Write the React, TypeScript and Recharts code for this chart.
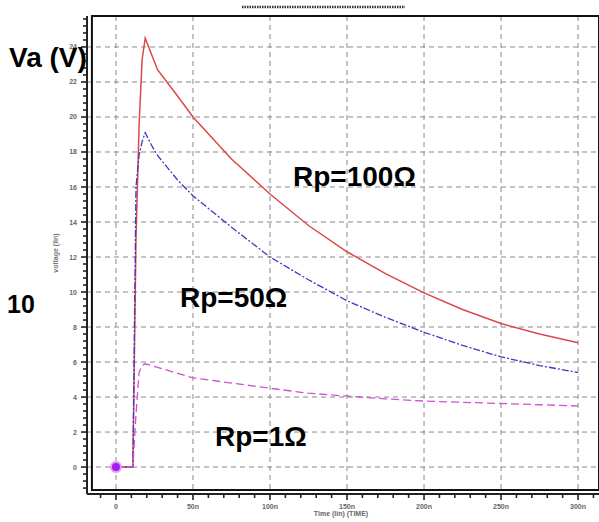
import {
  CartesianGrid,
  Line,
  LineChart,
  ReferenceArea,
  ReferenceDot,
  XAxis,
  YAxis,
} from "recharts";

// time in ns, voltages in V
const timeNs = [0, 11, 13, 15, 17, 19, 23, 27, 40, 50, 75, 100, 125, 150, 175, 200, 225, 250, 275, 300];
const rp100 = [0, 0, 13, 19.5, 23.3, 24.5, 23.6, 22.7, 21.2, 20.0, 17.6, 15.6, 13.8, 12.3, 11.05, 9.95, 9.0, 8.2, 7.6, 7.1];
const rp50 = [0, 0, 16, 17.8, 18.6, 19.1, 18.4, 17.8, 16.4, 15.5, 13.7, 12.0, 10.7, 9.5, 8.55, 7.7, 6.95, 6.3, 5.8, 5.4];
const rp1 = [0, 0, 3, 5.4, 5.8, 5.9, 5.8, 5.7, 5.35, 5.1, 4.8, 4.5, 4.22, 4.05, 3.9, 3.77, 3.7, 3.63, 3.56, 3.49];

const xMajor = [0, 50, 100, 150, 200, 250, 300];
const xLabels = ["0", "50n", "100n", "150n", "200n", "250n", "300n"];
const yMajor = [0, 2, 4, 6, 8, 10, 12, 14, 16, 18, 20, 22, 24];
const marker = { t: 0, v: 0 };

const X_DOMAIN: [number, number] = [-18.8, 313.6];
const Y_DOMAIN: [number, number] = [-1.54, 25.77];

const xMinor = Array.from({ length: 33 }, (_, i) => -10 + i * 10);
const yMinor = Array.from({ length: 68 }, (_, i) => Math.round((-1.2 + i * 0.4) * 10) / 10);

const data = timeNs.map((t, i) => ({ t, r100: rp100[i], r50: rp50[i], r1: rp1[i] }));

const tickFont = "Liberation Sans, Arial, sans-serif";

function YTick(props: any) {
  const { x, y, payload } = props;
  const v = payload.value;
  const major = yMajor.includes(v);
  return (
    <g>
      <line x1={x} x2={x - (major ? 6 : 4)} y1={y} y2={y} stroke="#222" strokeWidth={1.6} />
      {major ? (
        <text x={x - 10} y={y} dy={2.5} textAnchor="end" fontSize={7} fontWeight="bold" fill="#666" fontFamily={tickFont}>
          {v}
        </text>
      ) : null}
    </g>
  );
}

function XTick(props: any) {
  const { x, y, payload } = props;
  const idx = xMajor.indexOf(payload.value);
  const major = idx >= 0;
  return (
    <g>
      <line x1={x} x2={x} y1={y} y2={y + (major ? 6 : 4)} stroke="#222" strokeWidth={1.6} />
      {major ? (
        <text x={x} y={y + 15} textAnchor="middle" fontSize={7} fontWeight="bold" fill="#666" fontFamily={tickFont}>
          {xLabels[idx]}
        </text>
      ) : null}
    </g>
  );
}

const big = { fontFamily: "Liberation Sans, Arial, sans-serif", fontWeight: 700, fontSize: 28, fill: "#000" } as const;

export default function App() {
  return (
    <div style={{ position: "absolute", left: 0, top: 0, width: 599, height: 522, background: "#fff" }}>
      <LineChart width={599} height={522} data={data} margin={{ top: 16, right: 0, bottom: 0, left: 0 }}>
        <CartesianGrid
          stroke="#8a8a8a"
          strokeDasharray="5 4"
          horizontalValues={yMajor}
          verticalValues={xMajor}
        />
        <XAxis
          dataKey="t"
          type="number"
          domain={X_DOMAIN}
          allowDataOverflow
          ticks={xMinor}
          interval={0}
          height={28}
          tickSize={0}
          tickMargin={0}
          tickLine={false}
          axisLine={{ stroke: "#222", strokeWidth: 2 }}
          tick={<XTick />}
        />
        <YAxis
          type="number"
          domain={Y_DOMAIN}
          allowDataOverflow
          ticks={yMinor}
          interval={0}
          width={87}
          tickSize={0}
          tickMargin={0}
          tickLine={false}
          axisLine={{ stroke: "#222", strokeWidth: 2 }}
          tick={<YTick />}
        />
        <ReferenceArea
          x1={-15.6}
          x2={313.6}
          y1={-1.31}
          y2={25.77}
          fill="none"
          stroke="#111"
          strokeWidth={2}
          ifOverflow="visible"
        />
        <Line type="linear" dataKey="r100" stroke="#dc4848" strokeWidth={1.5} dot={false} isAnimationActive={false} />
        <Line
          type="linear"
          dataKey="r50"
          stroke="#3a3ac4"
          strokeWidth={1.3}
          strokeDasharray="7 2 2 2"
          dot={false}
          isAnimationActive={false}
        />
        <Line
          type="linear"
          dataKey="r1"
          stroke="#d050d8"
          strokeWidth={1.3}
          strokeDasharray="8 4"
          dot={false}
          isAnimationActive={false}
        />
        <ReferenceDot x={marker.t} y={marker.v} r={5} fill="#a020f0" stroke="#e59cf0" strokeWidth={2} ifOverflow="visible" />
      </LineChart>
      <svg
        width={599}
        height={522}
        style={{ position: "absolute", left: 0, top: 0, pointerEvents: "none" }}
      >
        <line x1={242} x2={405} y1={7} y2={7} stroke="#333" strokeWidth={2.5} strokeDasharray="1.5 1" />
        <text x={9} y={67} {...big}>Va (V)</text>
        <text x={7} y={313} {...big} fontSize={25}>10</text>
        <text x={293} y={186} {...big}>Rp=100Ω</text>
        <text x={180} y={307} {...big}>Rp=50Ω</text>
        <text x={215} y={446} {...big}>Rp=1Ω</text>
        <text
          transform="translate(58,253) rotate(-90)"
          textAnchor="middle"
          fontSize={7}
          fontWeight="bold"
          fill="#777"
          fontFamily={tickFont}
        >
          voltage (lin)
        </text>
        <text x={341} y={516} textAnchor="middle" fontSize={7} fontWeight="bold" fill="#666" fontFamily={tickFont}>
          Time (lin) (TIME)
        </text>
      </svg>
    </div>
  );
}
